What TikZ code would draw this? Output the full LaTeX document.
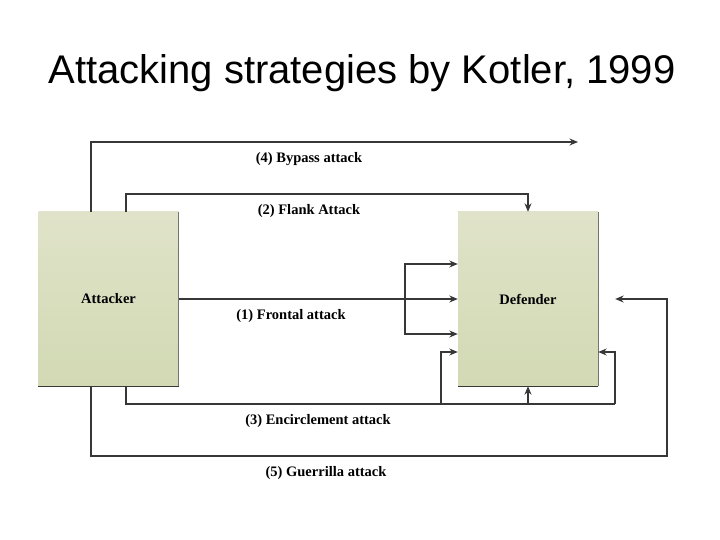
\documentclass[tikz,border=0pt]{standalone}
\usepackage{fontspec}
\setmainfont{Liberation Serif}
\newfontfamily\titlefont{Liberation Sans}
\usetikzlibrary{arrows.meta}
\definecolor{boxtop}{RGB}{224,227,201}
\definecolor{boxbot}{RGB}{210,217,179}
\definecolor{linecol}{RGB}{55,55,55}
\begin{document}
\begin{tikzpicture}[x=1pt,y=-1pt,
  partybox/.style={rectangle, minimum width=140pt, minimum height=174pt, inner sep=0pt,
    top color=boxtop, bottom color=boxbot, draw=none,
    font=\fontsize{14.5}{16}\selectfont\bfseries},
  conn/.style={draw=linecol, line width=1.1pt},
  arr/.style={conn, -{Stealth[length=8.5pt,width=7pt]}},
  lbl/.style={font=\fontsize{14.5}{16}\selectfont\bfseries, text=black, inner sep=0pt}]
\useasboundingbox (0,0) rectangle (720,540);
\node[font=\titlefont\fontsize{40}{46}\selectfont, anchor=base] (title) at (362,84) {Attacking strategies by Kotler, 1999};

\node[partybox] (a) at (108.5,299) {Attacker};
\node[partybox] (d) at (528,299) {Defender};
\draw[draw=linecol!70, line width=0.8pt] (a.north east) -- (a.south east);
\draw[draw=linecol, line width=1pt] (a.south west) -- (a.south east);
\draw[draw=linecol!70, line width=0.8pt] (d.north east) -- (d.south east);
\draw[draw=linecol, line width=1pt] (d.south west) -- (d.south east);

% (4) Bypass attack
\coordinate (bp1) at (91,142);
\coordinate (bpend) at (578,142);
\draw[arr] (a.north -| bp1) -- (bp1) -- (bpend);
\node[lbl] (lbp) at (309,159) {(4) Bypass attack};

% (2) Flank attack
\coordinate (fl1) at (126,194);
\draw[arr] (a.north -| fl1) -- (fl1) -| (d.north);
\node[lbl] (lfl) at (309,211) {(2) Flank Attack};

% (1) Frontal attack
\coordinate (fr) at (405,299);
\draw[arr] (a.east) -- (d.west);
\draw[arr] (fr) |- ([yshift=35pt]d.west);
\draw[arr] (fr) |- ([yshift=-35pt]d.west);
\node[lbl] (lfr) at (291,316) {(1) Frontal attack};

% (3) Encirclement attack
\coordinate (en1) at (126,404);
\coordinate (en2) at (441,404);
\coordinate (en3) at (615,404);
\draw[conn] (a.south -| en1) -- (en1) -- (en3);
\draw[arr] (en2) |- ([yshift=-53pt]d.west);
\draw[arr] (d.south |- en1) -- (d.south);
\draw[arr] (en3) |- ([yshift=-53pt]d.east);
\node[lbl] (len) at (318,421) {(3) Encirclement attack};

% (5) Guerrilla attack
\coordinate (gu1) at (91,456);
\coordinate (gu2) at (667,456);
\draw[arr] (a.south -| gu1) -- (gu1) -- (gu2) |- ([xshift=17pt]d.east);
\node[lbl] (lgu) at (326,473) {(5) Guerrilla attack};
\end{tikzpicture}
\end{document}
